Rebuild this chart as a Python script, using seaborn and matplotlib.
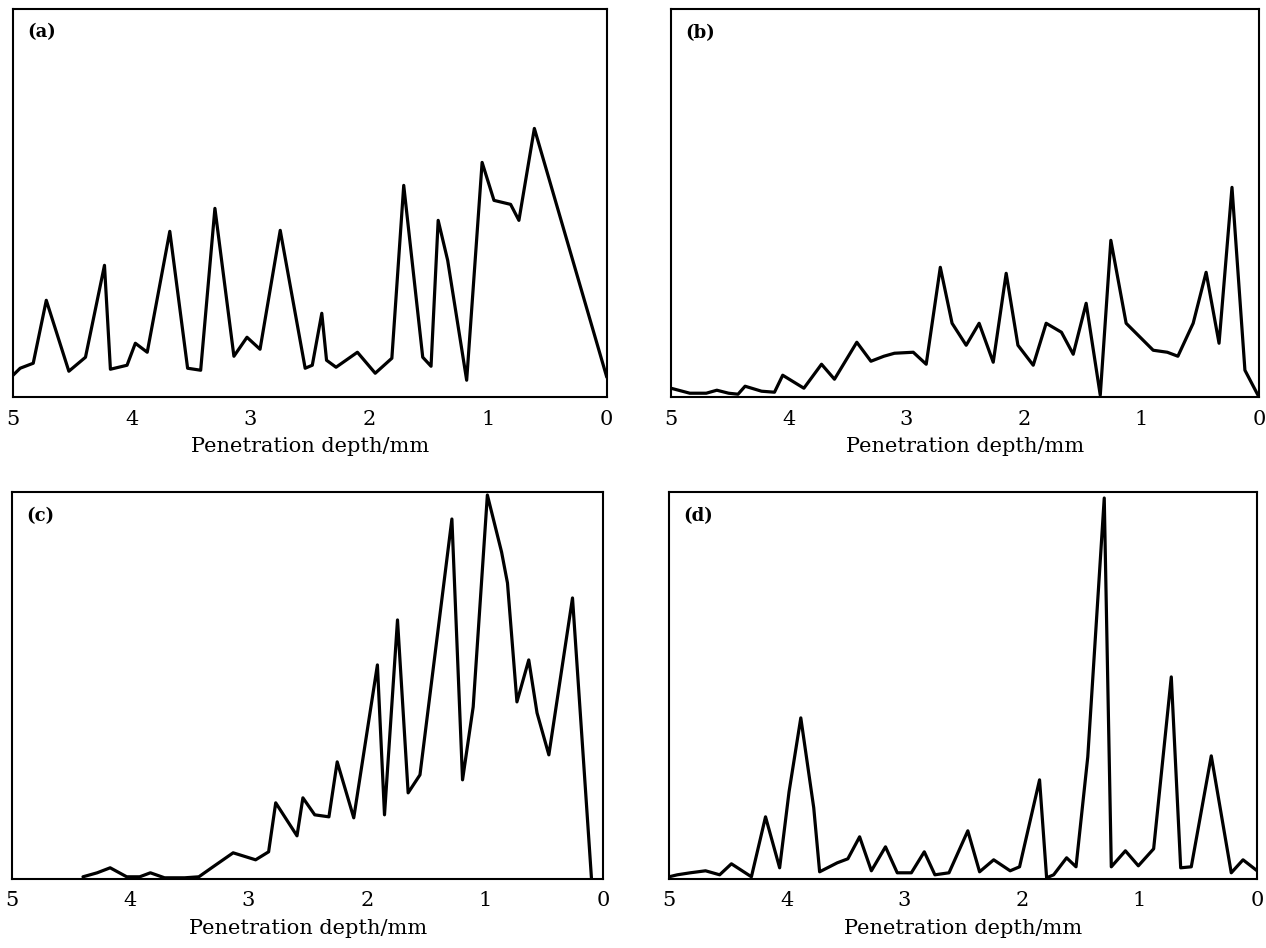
import matplotlib
matplotlib.use("Agg")
import pandas as pd
from matplotlib import pyplot as plt
import seaborn as sns

sns.set_style("white")
plt.rcParams["font.family"] = ["DejaVu Serif", "Liberation Serif"]
plt.rcParams["text.color"] = "black"
plt.rcParams["axes.labelcolor"] = "black"

# depth (mm) and relative signal (arbitrary units)
depth_a = [5.00, 4.94, 4.83, 4.72, 4.53, 4.39, 4.23, 4.18, 4.04, 3.97,
           3.87, 3.68, 3.53, 3.42, 3.30, 3.14, 3.03, 2.92, 2.75, 2.54,
           2.48, 2.40, 2.36, 2.28, 2.10, 1.95, 1.81, 1.71, 1.55, 1.48,
           1.42, 1.34, 1.18, 1.05, 0.95, 0.81, 0.74, 0.61, 0.00]
signal_a = [22, 29, 34, 97, 26, 40, 132, 28, 32, 54,
            45, 166, 29, 27, 189, 41, 60, 48, 167, 29,
            32, 84, 37, 30, 45, 24, 39, 212, 40, 31,
            177, 137, 17, 235, 197, 193, 177, 269, 20]

depth_b = [5.00, 4.84, 4.70, 4.61, 4.51, 4.43, 4.37, 4.23, 4.12, 4.05,
           3.87, 3.72, 3.61, 3.42, 3.30, 3.19, 3.10, 2.94, 2.83, 2.71,
           2.61, 2.49, 2.38, 2.26, 2.15, 2.05, 1.92, 1.81, 1.68, 1.58,
           1.47, 1.35, 1.26, 1.13, 0.90, 0.78, 0.69, 0.56, 0.45, 0.34,
           0.23, 0.12, 0.00]
signal_b = [9, 4, 4, 7, 4, 3, 11, 6, 5, 22,
            9, 33, 18, 55, 36, 41, 44, 45, 33, 130,
            74, 52, 74, 35, 124, 52, 32, 74, 65, 43,
            94, 2, 157, 74, 47, 45, 41, 74, 125, 54,
            210, 27, 0]

depth_c = [4.40, 4.28, 4.17, 4.03, 3.92, 3.83, 3.71, 3.54, 3.42, 3.30,
           3.13, 2.94, 2.83, 2.77, 2.59, 2.54, 2.44, 2.32, 2.25, 2.11,
           1.91, 1.85, 1.74, 1.65, 1.55, 1.28, 1.19, 1.10, 0.98, 0.86,
           0.81, 0.73, 0.63, 0.56, 0.46, 0.26, 0.10]
signal_c = [2, 6, 11, 2, 2, 6, 1, 1, 2, 12,
            26, 19, 27, 76, 43, 81, 64, 62, 117, 61,
            214, 64, 259, 86, 104, 360, 99, 172, 384, 327,
            296, 177, 219, 166, 124, 281, 1]

depth_d = [5.00, 4.93, 4.82, 4.69, 4.57, 4.47, 4.30, 4.18, 4.06, 3.98,
           3.88, 3.77, 3.72, 3.57, 3.48, 3.38, 3.28, 3.16, 3.06, 2.94,
           2.83, 2.74, 2.62, 2.46, 2.36, 2.24, 2.10, 2.02, 1.85, 1.79,
           1.73, 1.62, 1.54, 1.44, 1.30, 1.24, 1.12, 1.01, 0.88, 0.73,
           0.65, 0.56, 0.39, 0.22, 0.12, 0.00]
signal_d = [2, 4, 6, 8, 4, 15, 2, 62, 11, 87,
            161, 71, 7, 16, 20, 42, 8, 32, 6, 6,
            27, 4, 6, 48, 7, 19, 8, 12, 99, 1,
            4, 21, 12, 122, 381, 12, 28, 13, 30, 202,
            11, 12, 123, 6, 19, 8]

panel_labels = ["(a)", "(b)", "(c)", "(d)"]
depth_ticks = [5, 4, 3, 2, 1, 0]
x_label = "Penetration depth/mm"

series = [(depth_a, signal_a), (depth_b, signal_b),
          (depth_c, signal_c), (depth_d, signal_d)]
# axes rectangles in figure fractions and y-range for each panel
rects = [[0.0103, 0.581, 0.469, 0.410],
         [0.530, 0.581, 0.4645, 0.409],
         [0.0095, 0.073, 0.467, 0.408],
         [0.5285, 0.073, 0.4645, 0.408]]
ytops = [389, 388, 387, 387]

fig = plt.figure(figsize=(12.66, 9.48), dpi=100)

for label, (xs, ys), rect, ytop in zip(panel_labels, series, rects, ytops):
    ax = fig.add_axes(rect)
    df = pd.DataFrame({"depth": xs, "signal": ys})
    sns.lineplot(data=df, x="depth", y="signal", ax=ax, color="black",
                 linewidth=2.3, estimator=None, sort=False)
    ax.set_xlim(5, 0)
    ax.set_ylim(0, ytop)
    ax.set_xticks(depth_ticks)
    ax.set_xticklabels([str(t) for t in depth_ticks])
    ax.set_yticks([])
    ax.tick_params(axis="x", direction="in", length=4, width=1.2,
                   labelsize=15, pad=9, colors="black")
    ax.set_xlabel(x_label, fontsize=15, labelpad=6, color="black")
    ax.set_ylabel("")
    for sp in ax.spines.values():
        sp.set_visible(True)
        sp.set_color("black")
        sp.set_linewidth(1.5)
    ax.text(0.024, 0.962, label, transform=ax.transAxes, fontsize=13,
            fontweight="bold", color="black", ha="left", va="top")

fig.savefig("out.png", dpi=100)
